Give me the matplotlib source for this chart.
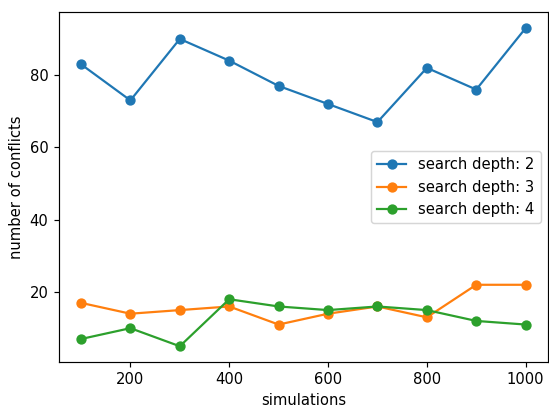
import matplotlib
matplotlib.use("Agg")
import matplotlib.pyplot as plt

simulations = [100, 200, 300, 400, 500, 600, 700, 800, 900, 1000]
depth2 = [83, 73, 90, 84, 77, 72, 67, 82, 76, 93]
depth3 = [17, 14, 15, 16, 11, 14, 16, 13, 22, 22]
depth4 = [7, 10, 5, 18, 16, 15, 16, 15, 12, 11]
labels = ["search depth: 2", "search depth: 3", "search depth: 4"]

DPI = 106
fig = plt.figure(figsize=(549 / DPI, 406 / DPI), dpi=DPI)
ax = fig.add_axes([0.107, 0.108, 0.891, 0.862])
for vals, lab in zip([depth2, depth3, depth4], labels):
    ax.plot(simulations, vals, marker="o", label=lab)
ax.set_xlabel("simulations")
ax.set_ylabel("number of conflicts")
ax.legend(loc="center right")
fig.savefig("out.png", dpi=DPI)
